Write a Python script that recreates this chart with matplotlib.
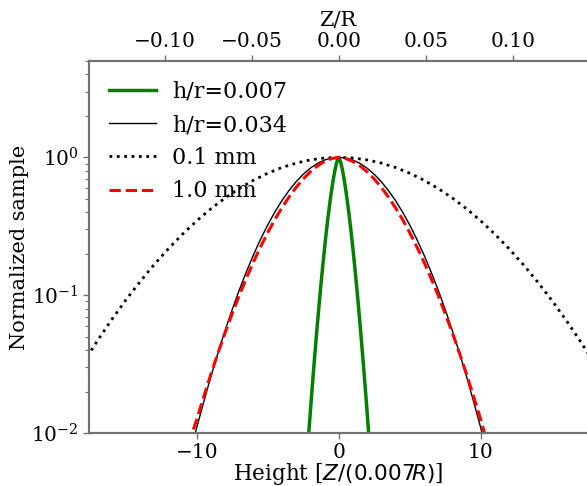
import numpy as np
import matplotlib
matplotlib.use("Agg")
import matplotlib.pyplot as plt

plt.rcParams['font.family'] = 'DejaVu Serif'

# values (log-scale profiles)
x_thin = [-2.2, -2.0, -1.875, -1.75, -1.625, -1.5, -1.375, -1.25, -1.125, -1.0,
          -0.875, -0.75, -0.625, -0.5, -0.375, -0.25, -0.15, -0.05, 0.0,
          0.05, 0.15, 0.25, 0.375, 0.5, 0.625, 0.75, 0.875,
          1.0, 1.125, 1.25, 1.375, 1.5, 1.625, 1.75, 1.875, 2.0, 2.2]
y_thin = [0.0075, 0.0142, 0.0210, 0.0305, 0.0438, 0.0622, 0.087, 0.120, 0.163, 0.218,
          0.286, 0.370, 0.467, 0.579, 0.700, 0.822, 0.912, 0.982, 1.0,
          0.982, 0.912, 0.822, 0.700, 0.579, 0.467, 0.370, 0.286,
          0.218, 0.163, 0.120, 0.087, 0.0622, 0.0438, 0.0305, 0.0210, 0.0142, 0.0075]

x_thick = [-10.3, -10, -9.5, -9, -8.5, -8, -7.5, -7, -6.5, -6, -5.5, -5, -4.5, -4,
           -3.5, -3, -2.5, -2, -1.5, -1, -0.5, 0,
           0.5, 1, 1.5, 2, 2.5, 3, 3.5, 4, 4.5, 5, 5.5, 6, 6.5, 7, 7.5, 8,
           8.5, 9, 9.5, 10, 10.3]
y_thick = [0.0083, 0.011, 0.0170, 0.0259, 0.0384, 0.0557, 0.079, 0.1096, 0.1485, 0.197,
           0.2553, 0.324, 0.401, 0.486, 0.575, 0.666, 0.754, 0.835, 0.9035, 0.956, 0.9888, 1.0,
           0.9888, 0.956, 0.9035, 0.835, 0.754, 0.666, 0.575, 0.486, 0.401, 0.324, 0.2553,
           0.197, 0.1485, 0.1096, 0.079, 0.0557, 0.0384, 0.0259, 0.0170, 0.011, 0.0083]

x_01mm = [-18, -17, -16, -15, -14, -13, -12, -11, -10, -9, -8, -7, -6, -5, -4, -3, -2, -1, 0,
          1, 2, 3, 4, 5, 6, 7, 8, 9, 10, 11, 12, 13, 14, 15, 16, 17, 18]
y_01mm = [0.0323, 0.0468, 0.0665, 0.0923, 0.1254, 0.167, 0.2176, 0.2776, 0.347, 0.424,
          0.508, 0.595, 0.683, 0.767, 0.844, 0.909, 0.958, 0.9895, 1.0,
          0.9895, 0.958, 0.909, 0.844, 0.767, 0.683, 0.595, 0.508, 0.424, 0.347,
          0.2776, 0.2176, 0.167, 0.1254, 0.0923, 0.0665, 0.0468, 0.0323]

x_1mm = [-10.6, -10, -9.5, -9, -8.5, -8, -7.5, -7, -6.5, -6, -5.5, -5, -4.5, -4,
         -3.5, -3, -2.5, -2, -1.5, -1, -0.5, 0,
         0.5, 1, 1.5, 2, 2.5, 3, 3.5, 4, 4.5, 5, 5.5, 6, 6.5, 7, 7.5, 8,
         8.5, 9, 9.5, 10, 10.4]
y_1mm = [0.0082, 0.0126, 0.0185, 0.0269, 0.0382, 0.0537, 0.0738, 0.1002, 0.1334, 0.175,
         0.225, 0.285, 0.354, 0.431, 0.516, 0.606, 0.697, 0.786, 0.866, 0.933, 0.980, 1.0,
         0.980, 0.933, 0.866, 0.786, 0.697, 0.606, 0.516, 0.431, 0.354, 0.285, 0.225,
         0.175, 0.1334, 0.1002, 0.0738, 0.0537, 0.0382, 0.0269, 0.0185, 0.0126, 0.0090]

fig = plt.figure(figsize=(5.87, 4.86), dpi=100)
ax = fig.add_axes([89/587., 53/486., 498/587., 372/486.])

ax.plot(x_thin, y_thin, color='green', lw=2.5, label='h/r=0.007')
ax.plot(x_thick, y_thick, color='black', lw=1.0, label='h/r=0.034')
ax.plot(x_01mm, y_01mm, color='black', lw=2.0, ls=':', label='0.1 mm')
ax.plot(x_1mm, y_1mm, color='red', lw=2.2, ls='--', label='1.0 mm')

ax.set_yscale('log')
ax.set_ylim(1e-2, 5)
ax.set_xlim(-17.6, 17.5)
ax.set_xticks([-10, 0, 10])
ax.set_xlabel(r'Height [$Z/(0.007R)$]', fontsize=15.5, labelpad=-1)
ax.set_ylabel('Normalized sample', fontsize=15, labelpad=2)

ax2 = ax.twiny()
ax2.set_xlim(-0.1437, 0.1425)
ax2.set_xticks([-0.10, -0.05, 0.0, 0.05, 0.10])
ax2.set_xticklabels(['\u22120.10', '\u22120.05', '0.00', '0.05', '0.10'])
ax2.set_xlabel('Z/R', fontsize=15, labelpad=4)

for a in (ax, ax2):
    for s in a.spines.values():
        s.set_color('#707070')
        s.set_linewidth(1.5)
    a.spines['right'].set_visible(False)
    a.tick_params(colors='#707070', labelcolor='black', labelsize=14.5, width=1, length=4)
ax.tick_params(which='minor', colors='#707070', width=0.8, length=3)

ax.legend(loc='upper left', frameon=False, fontsize=16, handlelength=2.1,
          borderaxespad=0.5, labelspacing=0.5, handletextpad=0.75)

fig.savefig('out.png', dpi=100)
